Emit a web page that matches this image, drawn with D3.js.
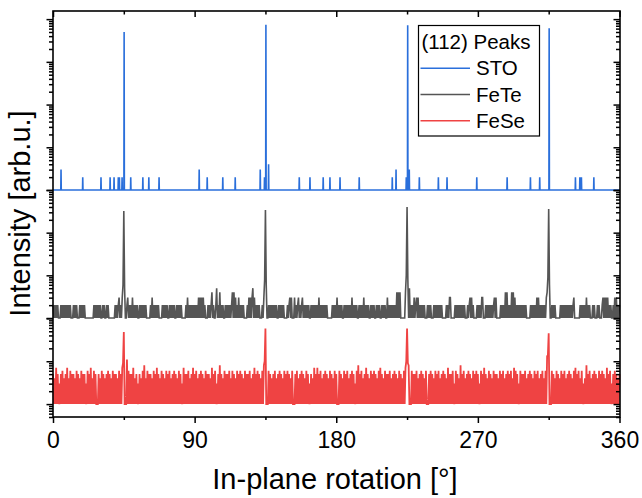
<!DOCTYPE html>
<html lang="en">
<head>
<meta charset="UTF-8">
<title>(112) Peaks</title>
<script src="https://d3js.org/d3.v7.min.js"></script>
<style>
  body { margin: 0; background: #fff; }
  svg { display: block; }
  text { font-family: "Liberation Sans", Arial, sans-serif; fill: #000; }
  .tick text { font-size: 23px; }
  .axis-title { font-size: 29px; }
  .legend text { font-size: 20.5px; }
</style>
</head>
<body>
<script>
const width = 642, height = 498;

// x axis
const xTicks = [0, 90, 180, 270, 360];
const xMinorTicks = [45, 135, 225, 315];

// STO: single spikes on a flat background of 1 count
const stoAngles = [5.1, 18.9, 30.5, 36.3, 38.8, 41.5, 42.2, 43.9, 45.2, 49.4, 57.1, 60.9, 67.4,
  92.9, 98, 107.9, 115.8, 131.7, 134.4, 135.3, 137, 156.5, 163.3, 171.7, 176, 182.4, 194.6,
  215.6, 218, 224.5, 225.4, 226.4, 232.8, 244.9, 250.4, 269.3, 288.6, 303.4, 309.3, 315.3,
  332, 334.8, 335.8, 343.7];
const stoCounts = [3, 2, 2, 2, 2, 2, 2, 2, 5000, 2, 2, 2, 2,
  3, 2, 2, 2, 3, 2, 7400, 4, 2, 2, 2, 2, 2, 2,
  2, 3, 2, 7200, 3, 2, 2, 2, 2, 2, 2, 2, 6150,
  2, 2, 2, 2];

// FeTe and FeSe scans, 0.5 deg step from 0 to 360
const scanStep = 0.5;
const feTe = [
  2,1,2,1,2,1,2,1,1,1,2,1,2,1,2,1,2,1,2,1,
  2,1,2,1,1,1,2,1,2,1,2,1,1,1,2,1,2,1,2,1,
  2,1,1,1,1,1,1,1,1,1,1,1,2,1,2,1,2,1,2,1,
  2,1,1,2,1,2,1,1,2,1,2,1,1,1,1,1,1,1,1,2,
  1,2,1,2,3,1,2,1,3,6,320,5,1,1,2,3,1,2,1,2,
  1,3,1,2,1,2,1,2,1,1,2,1,2,1,2,1,2,1,2,1,
  1,1,1,1,2,1,3,1,2,1,2,1,2,1,2,1,1,1,1,2,
  1,2,1,2,1,2,1,1,2,1,2,1,2,1,2,1,1,2,1,2,
  1,2,1,2,1,1,1,1,1,2,1,3,1,2,1,2,1,2,1,2,
  1,2,1,2,1,3,1,3,1,3,1,3,1,2,1,1,1,2,1,2,
  1,2,4,1,2,1,1,2,5,1,2,1,4,1,2,1,2,1,1,2,
  1,2,1,2,1,2,1,2,4,1,4,1,3,1,2,1,3,1,2,1,
  2,1,2,1,1,1,1,2,1,3,1,3,1,3,5,1,3,1,2,1,
  2,1,2,1,1,1,2,1,3,8,340,6,1,1,2,1,2,1,2,1,
  2,1,2,1,2,1,1,2,1,2,1,2,1,2,1,1,1,1,2,1,
  2,3,1,3,1,1,1,3,1,2,1,2,3,1,2,1,2,3,1,2,
  1,2,1,2,1,2,1,1,2,1,2,1,2,1,2,1,2,1,3,1,
  2,1,2,1,2,1,2,1,2,1,1,1,1,1,1,2,1,2,1,2,
  1,3,1,2,1,2,1,2,1,1,2,1,2,1,2,1,2,1,2,1,
  3,1,2,1,2,1,2,1,1,2,1,2,1,2,1,3,1,2,1,2,
  1,2,1,1,2,1,2,1,2,1,1,2,1,2,1,2,1,1,2,1,
  2,1,2,1,1,3,1,2,1,2,1,2,1,2,1,2,1,4,1,4,
  1,4,1,1,1,1,1,1,4,10,400,8,1,5,1,2,1,2,1,3,
  1,2,3,1,3,1,2,1,2,1,2,1,2,1,1,1,2,1,2,1,
  2,1,1,1,2,1,2,1,2,1,2,1,2,1,2,1,1,1,1,1,
  2,1,2,1,3,3,1,1,1,1,1,2,1,2,1,2,1,2,1,2,
  1,2,1,2,1,1,1,2,1,2,3,1,3,1,2,1,1,1,1,2,
  1,2,1,2,1,3,3,1,1,1,2,1,2,1,2,1,2,1,2,1,
  2,3,1,3,1,1,1,1,1,2,1,2,1,2,1,4,1,4,1,2,
  1,2,1,4,1,4,1,3,1,2,1,2,1,2,1,2,1,2,1,2,
  1,2,1,1,1,1,1,2,1,2,1,2,1,2,1,3,1,3,1,2,
  1,2,1,2,1,2,1,3,4,9,360,6,1,1,2,1,2,1,2,1,
  1,1,1,1,1,2,1,2,1,2,1,2,1,2,1,2,1,2,1,2,
  1,2,3,1,1,1,1,1,1,1,2,1,2,1,2,1,2,1,3,1,
  2,1,2,1,1,1,2,1,2,1,1,1,2,1,2,1,1,1,2,3,
  1,3,1,3,1,3,1,2,1,2,1,1,2,1,3,1,3,1,2,1,
  2
];
const feSe = [
  5,1,4,1,7,1,5,1,3,1,5,1,6,1,4,1,5,1,7,1,
  4,1,6,1,5,1,5,1,4,1,6,1,5,1,4,1,6,1,5,1,
  5,1,3,1,6,1,5,1,7,1,4,1,6,1,5,1,1,1,5,1,
  4,1,6,1,5,1,4,1,5,1,6,1,5,1,4,1,6,1,5,1,
  5,1,4,1,6,1,5,1,7,9,48,1,1,1,11,1,6,1,5,1,
  5,1,7,1,4,1,5,1,3,1,5,1,4,1,6,1,8,1,4,1,
  6,1,5,1,5,1,4,1,6,1,5,1,7,1,5,1,4,1,6,1,
  5,1,4,1,6,1,5,1,6,1,4,1,5,1,6,1,5,1,4,1,
  6,1,5,1,3,1,7,1,5,1,5,1,6,1,4,1,5,1,7,1,
  5,1,6,1,4,1,5,1,6,1,5,1,4,1,6,1,5,1,5,1,
  4,1,7,1,5,1,6,1,3,1,5,1,8,1,5,1,4,1,6,1,
  5,1,5,1,6,1,4,1,6,1,5,1,4,1,6,1,5,1,6,1,
  5,1,4,1,6,1,5,1,5,1,6,1,4,1,5,1,7,1,5,1,
  6,1,5,1,4,1,6,1,8,10,58,1,1,1,6,1,5,1,4,1,
  5,1,6,1,4,1,5,1,6,1,5,1,4,1,6,1,5,1,6,1,
  5,1,4,1,6,1,1,1,5,1,6,1,4,1,5,1,6,1,5,1,
  4,1,6,1,5,1,3,1,5,1,4,1,7,1,5,1,7,1,5,1,
  6,1,4,1,5,1,6,1,5,1,4,1,6,1,5,1,4,1,6,1,
  5,1,1,1,6,1,5,1,4,1,6,1,5,1,6,1,4,1,5,1,
  6,1,5,1,3,1,6,1,8,1,5,1,6,1,4,1,5,1,7,1,
  5,1,4,1,6,1,5,1,6,1,5,1,4,1,6,1,7,1,5,1,
  4,1,6,1,5,1,5,1,6,1,4,1,5,1,6,1,5,1,4,1,
  6,1,5,1,4,1,6,1,7,10,58,9,8,1,1,1,6,1,5,1,
  5,1,6,1,4,1,5,1,6,1,5,1,4,1,6,1,1,1,5,1,
  6,1,5,1,4,1,6,1,5,1,6,1,4,1,5,1,6,1,5,1,
  4,1,7,1,5,1,5,1,6,1,3,1,6,1,5,1,4,1,8,1,
  5,1,6,1,4,1,5,1,6,1,5,1,4,1,6,1,5,1,6,1,
  5,1,3,1,6,1,5,1,7,1,5,1,4,1,6,1,5,1,4,1,
  6,1,5,1,5,1,4,1,6,1,5,1,6,1,4,1,5,1,6,1,
  5,1,6,1,4,1,7,1,6,1,5,1,3,1,6,1,5,1,5,1,
  6,1,4,1,5,1,6,1,5,1,4,1,6,1,5,1,6,1,4,1,
  5,1,6,1,4,1,6,1,13,14,45,1,1,1,6,1,5,1,4,1,
  6,1,5,1,4,1,6,1,5,1,6,1,4,1,5,1,6,1,5,1,
  4,1,6,1,7,1,5,1,6,1,4,1,6,1,3,1,4,1,8,1,
  5,1,6,1,4,1,5,1,6,1,5,1,4,1,6,1,5,1,6,1,
  5,1,4,1,7,1,5,1,6,1,3,1,5,1,6,1,5,1,4,1,
  5
];

const legendTitle = "(112) Peaks";
const seriesNames = ["STO", "FeTe", "FeSe"];
const seriesColors = ["#2a6fdb", "#555555", "#ef4343"];
const seriesWidths = [1.6, 1.6, 1.8];

// layout
const plotLeft = 53, plotRight = 620, plotTop = 11, plotBottom = 417;
const panels = [
  { y0: 11,  y1: 190, domain: [1, 15500] },
  { y0: 190, y1: 318, domain: [1, 1000] },
  { y0: 318, y1: 417, domain: [0.5, 102] }
];

const svg = d3.select("body").append("svg")
  .attr("width", width).attr("height", height);

const x = d3.scaleLinear().domain([0, 360]).range([plotLeft, 619.5]);
panels.forEach(p => p.y = d3.scaleLog().domain(p.domain).range([p.y1, p.y0]));

// series data as [angle, value]
const stoData = [[0, 1]];
stoAngles.forEach((a, i) => stoData.push([a - 0.15, 1], [a, stoCounts[i]], [a + 0.15, 1]));
stoData.push([360, 1]);
const feTeData = feTe.map((v, i) => [i * scanStep, v]);
const feSeData = feSe.map((v, i) => [i * scanStep, v]);
const allData = [stoData, feTeData, feSeData];

allData.forEach((data, k) => {
  const y = panels[k].y;
  svg.append("path")
    .datum(data)
    .attr("fill", "none")
    .attr("stroke", seriesColors[k])
    .attr("stroke-width", seriesWidths[k])
    .attr("d", d3.line().x(d => x(d[0])).y(d => y(d[1])));
});

// frame
svg.append("rect")
  .attr("x", plotLeft).attr("y", plotTop)
  .attr("width", plotRight - plotLeft).attr("height", plotBottom - plotTop)
  .attr("fill", "none").attr("stroke", "#000").attr("stroke-width", 1.6);

function styleAxis(g) {
  g.select(".domain").remove();
  g.selectAll(".tick line").attr("stroke-width", 1.5);
}

// y axes: both sides, ticks pointing left
panels.forEach(p => {
  const ticks = p.y.ticks();
  const isMajor = v => Math.abs(Math.log10(v) - Math.round(Math.log10(v))) < 1e-6;
  const majors = ticks.filter(isMajor);
  const minors = ticks.filter(v => !isMajor(v));
  [plotLeft, plotRight].forEach(px => {
    svg.append("g").attr("transform", `translate(${px},0)`)
      .call(d3.axisLeft(p.y).tickValues(majors).tickSize(6.5).tickFormat(""))
      .call(styleAxis);
    svg.append("g").attr("transform", `translate(${px},0)`)
      .call(d3.axisLeft(p.y).tickValues(minors).tickSize(4).tickFormat(""))
      .call(styleAxis);
  });
});

// x axes
svg.append("g").attr("transform", `translate(0,${plotBottom})`)
  .call(d3.axisBottom(x).tickValues(xTicks).tickSize(6).tickPadding(9).tickFormat(d3.format("d")))
  .call(styleAxis);
svg.append("g").attr("transform", `translate(0,${plotBottom})`)
  .call(d3.axisBottom(x).tickValues(xMinorTicks).tickSize(3).tickFormat(""))
  .call(styleAxis);
svg.append("g").attr("transform", `translate(0,${plotTop})`)
  .call(d3.axisBottom(x).tickValues(xTicks).tickSize(6).tickFormat(""))
  .call(styleAxis);
svg.append("g").attr("transform", `translate(0,${plotTop})`)
  .call(d3.axisBottom(x).tickValues(xMinorTicks).tickSize(3.5).tickFormat(""))
  .call(styleAxis);

// axis titles
svg.append("text").attr("class", "axis-title")
  .attr("x", 335).attr("y", 489).attr("text-anchor", "middle")
  .text("In-plane rotation [°]");
svg.append("text").attr("class", "axis-title")
  .attr("transform", "translate(29.5,213.5) rotate(-90)")
  .attr("text-anchor", "middle")
  .text("Intensity [arb.u.]");

// legend
const legend = svg.append("g").attr("class", "legend");
legend.append("rect")
  .attr("x", 418.5).attr("y", 25.5).attr("width", 121).attr("height", 110.5)
  .attr("fill", "#fff").attr("stroke", "#000").attr("stroke-width", 1.2);
legend.append("text").attr("x", 421.5).attr("y", 49).text(legendTitle);
seriesNames.forEach((name, i) => {
  const cy = 68.3 + i * 26.2;
  legend.append("line")
    .attr("x1", 420.5).attr("x2", 470).attr("y1", cy).attr("y2", cy)
    .attr("stroke", seriesColors[i]).attr("stroke-width", 1.5);
  legend.append("text").attr("x", 476).attr("y", cy + 7).text(name);
});
</script>
</body>
</html>
